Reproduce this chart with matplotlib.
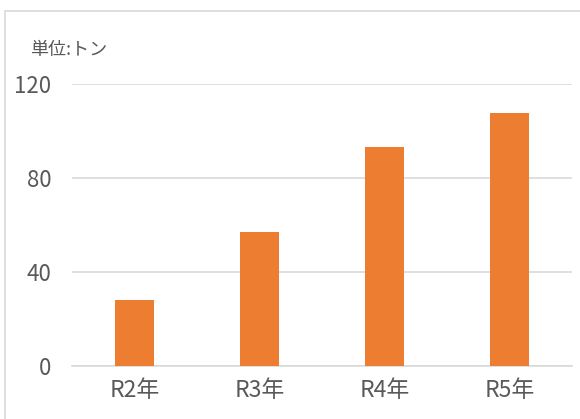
import matplotlib
matplotlib.use("Agg")
import matplotlib.pyplot as plt
from matplotlib.patches import Rectangle

categories = ["R2年", "R3年", "R4年", "R5年"]
values = [28, 57, 93, 107.5]
yticks = [0, 40, 80, 120]
unit_label = "単位:トン"

fam = ["Noto Sans CJK JP", "DejaVu Sans"]
plt.rcParams["font.family"] = fam
txt = "#595959"

fig = plt.figure(figsize=(5.8, 4.19), dpi=100)
W, H = 580, 419
# outer chart frame
fig.patches.append(Rectangle((5 / W, -0.1), 1.2, 1 - 11 / H + 0.1, transform=fig.transFigure,
                             fill=False, edgecolor="#d9d9d9", linewidth=1.2))

ax = fig.add_axes([72 / W, 1 - 366 / H, 500 / W, (366 - 84) / H])
x = range(len(categories))
ax.bar(x, values, width=0.31, color="#ed7d31", zorder=3)
ax.set_xlim(-0.5, len(categories) - 0.5)
ax.set_ylim(0, 120)
ax.set_yticks(yticks)
ax.set_yticklabels([str(v) for v in yticks], fontsize=16, color=txt)
ax.set_xticks(list(x))
ax.set_xticklabels(categories, fontsize=16.5, color=txt)
ax.grid(axis="y", color="#d9d9d9", linewidth=1.2, zorder=0)
for s in ["top", "right", "left"]:
    ax.spines[s].set_visible(False)
ax.spines["bottom"].set_color("#d9d9d9")
ax.spines["bottom"].set_linewidth(1.2)
ax.tick_params(axis="both", length=0)
ax.tick_params(axis="y", pad=15)
ax.tick_params(axis="x", pad=9)

fig.text(30 / W, 1 - 50 / H, unit_label, fontsize=13, color=txt, va="center", ha="left")

fig.savefig("out.png", dpi=100)
